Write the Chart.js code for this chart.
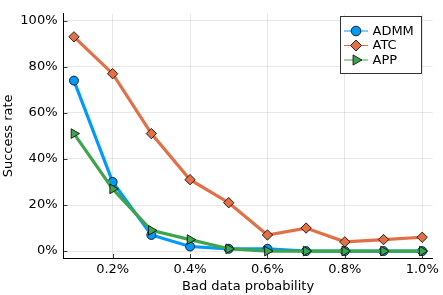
<!DOCTYPE html>
<html><head><meta charset="utf-8">
<script src="https://cdn.jsdelivr.net/npm/chart.js@4/dist/chart.umd.min.js"></script>
<style>html,body{margin:0;padding:0;background:#fff;}#wrap{width:443px;height:295px;}</style>
</head><body><div id="wrap"><canvas id="c" width="443" height="295"></canvas></div>
<script>
const probabilities = [0.1, 0.2, 0.3, 0.4, 0.5, 0.6, 0.7, 0.8, 0.9, 1.0];
const admm = [74, 30, 7, 2, 1, 1, 0, 0, 0, 0];
const atc  = [93, 77, 51, 31, 21, 7, 10, 4, 5, 6];
const app  = [51, 27, 9, 5, 1, 0, 0, 0, 0, 0];
const seriesNames = ['ADMM', 'ATC', 'APP'];
const xTicks = [0.2, 0.4, 0.6, 0.8, 1.0];
const yTicks = [0, 20, 40, 60, 80, 100];
const xTitle = 'Bad data probability';
const yTitle = 'Success rate';

const FONT = 'DejaVu Sans';
const colors = ['#009AFA', '#E36F47', '#3EA44E'];
const styles = [
  {pointStyle: 'circle', radius: 4.5, rotation: 0},
  {pointStyle: 'rectRot', radius: 5.2, rotation: 0},
  {pointStyle: 'triangle', radius: 5.6, rotation: 90}
];
const values = [admm, atc, app];

const datasets = values.map((vals, i) => ({
  label: seriesNames[i],
  data: probabilities.map((p, j) => ({x: p, y: vals[j]})),
  borderColor: colors[i],
  backgroundColor: colors[i],
  borderWidth: 3.2,
  pointStyle: styles[i].pointStyle,
  pointRadius: styles[i].radius,
  pointRotation: styles[i].rotation,
  pointBackgroundColor: colors[i],
  pointBorderColor: '#000',
  pointBorderWidth: 0.8,
  tension: 0,
  order: 3 - i
}));

function drawMarker(ctx, style, x, y, r, rot) {
  ctx.beginPath();
  if (style === 'circle') {
    ctx.arc(x, y, r, 0, Math.PI * 2);
  } else if (style === 'rectRot') {
    ctx.moveTo(x - r, y); ctx.lineTo(x, y - r); ctx.lineTo(x + r, y); ctx.lineTo(x, y + r);
  } else {
    let rad = rot * Math.PI / 180;
    for (let k = 0; k < 3; k++) {
      const px = x + Math.sin(rad) * r, py = y - Math.cos(rad) * r;
      if (k === 0) ctx.moveTo(px, py); else ctx.lineTo(px, py);
      rad += 2 * Math.PI / 3;
    }
  }
  ctx.closePath();
  ctx.fill();
  ctx.stroke();
}

const innerTicks = {
  id: 'innerTicks',
  beforeDatasetsDraw(chart) {
    const {ctx, chartArea: a, scales: {x, y}} = chart;
    ctx.save();
    ctx.strokeStyle = 'rgba(0,0,0,0.75)';
    ctx.lineWidth = 1;
    ctx.beginPath();
    xTicks.forEach(v => { const px = Math.round(x.getPixelForValue(v)) + 0.5; ctx.moveTo(px, a.bottom); ctx.lineTo(px, a.bottom - 4); });
    yTicks.forEach(v => { const py = Math.round(y.getPixelForValue(v)) + 0.5; ctx.moveTo(a.left, py); ctx.lineTo(a.left + 4, py); });
    ctx.stroke();
    ctx.restore();
  }
};

const legendBox = {
  id: 'legendBox',
  afterDraw(chart) {
    const ctx = chart.ctx;
    ctx.save();
    const bx = 340.5, by = 16.5, bw = 81, bh = 57;
    ctx.fillStyle = '#fff';
    ctx.fillRect(bx, by, bw, bh);
    ctx.strokeStyle = '#333';
    ctx.lineWidth = 1;
    ctx.strokeRect(bx, by, bw, bh);
    const rows = [31, 45.5, 60];
    seriesNames.forEach((name, i) => {
      const yy = rows[i];
      ctx.strokeStyle = colors[i];
      ctx.lineWidth = 1;
      ctx.beginPath(); ctx.moveTo(344, yy); ctx.lineTo(368, yy); ctx.stroke();
      ctx.fillStyle = colors[i];
      ctx.strokeStyle = '#000';
      ctx.lineWidth = 0.8;
      drawMarker(ctx, styles[i].pointStyle, 356, yy, styles[i].radius + 0.3, styles[i].rotation);
      ctx.fillStyle = '#000';
      ctx.font = '13px "' + FONT + '"';
      ctx.textAlign = 'left';
      ctx.textBaseline = 'middle';
      ctx.fillText(name, 372.5, yy + 0.5);
    });
    ctx.restore();
  }
};

new Chart(document.getElementById('c'), {
  type: 'line',
  data: {datasets},
  plugins: [innerTicks, legendBox],
  options: {
    responsive: false,
    animation: false,
    devicePixelRatio: 1,
    layout: {padding: {top: 8, right: 9.5, left: 0, bottom: 0}},
    plugins: {legend: {display: false}, tooltip: {enabled: false}},
    scales: {
      x: {
        type: 'linear',
        min: 0.073, max: 1.027,
        afterBuildTicks: s => { s.ticks = xTicks.map(v => ({value: v})); },
        afterFit: s => { s.height = 37; },
        ticks: {callback: v => Number(v).toFixed(1) + '%', font: {family: FONT, size: 13}, color: '#000', padding: 4, maxRotation: 0, autoSkip: false},
        grid: {color: 'rgba(0,0,0,0.09)', drawTicks: false},
        border: {color: '#000', width: 1},
        title: {display: true, text: xTitle, font: {family: FONT, size: 13}, color: '#000', padding: {top: 0, bottom: 1}}
      },
      y: {
        min: -3, max: 103,
        afterBuildTicks: s => { s.ticks = yTicks.map(v => ({value: v})); },
        afterFit: s => { s.width = 63.5; },
        ticks: {callback: v => v + '%', font: {family: FONT, size: 13}, color: '#000', padding: 6},
        grid: {color: 'rgba(0,0,0,0.09)', drawTicks: false},
        border: {color: '#000', width: 1},
        title: {display: true, text: yTitle, font: {family: FONT, size: 13}, color: '#000', padding: {top: 1, bottom: 0}}
      }
    }
  }
});
</script></body></html>
